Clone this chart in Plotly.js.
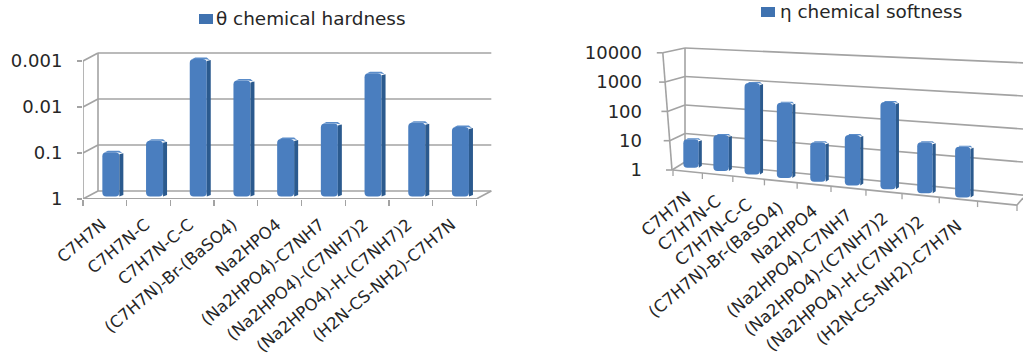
<!DOCTYPE html>
<html>
<head>
<meta charset="utf-8">
<script src="https://cdn.plot.ly/plotly-3.0.1.min.js"></script>
<style>html,body{margin:0;padding:0;background:#fff;overflow:hidden}</style>
</head>
<body>
<div id="chart" style="width:1023px;height:356px"></div>
<script>
// Compounds on the category axis of both panels
const categories = ['C7H7N','C7H7N-C','C7H7N-C-C','(C7H7N)-Br-(BaSO4)','Na2HPO4','(Na2HPO4)-C7NH7','(Na2HPO4)-(C7NH7)2','(Na2HPO4)-H-(C7NH7)2','(H2N-CS-NH2)-C7H7N'];
const hardness = [0.109,0.061,0.00102,0.003,0.056,0.026,0.0021,0.025,0.031];
const softness = [9.2,16,1000,270,18,38,480,35,32];
const hardnessTicks = [1,0.1,0.01,0.001];
const hardnessTickText = ['1','0.1','0.01','0.001'];
const softnessTicks = [1,10,100,1000,10000];
const softnessTickText = ['1','10','100','1000','10000'];
const hardnessTitle = 'θ chemical hardness';
const softnessTitle = 'η chemical softness';

const W = 1023, H = 356;
const FONT = 'DejaVu Sans, sans-serif';
const TEXT = '#262626';
const GRID = '#a3a3a3';
const FRONT = '#4a7ebf', SIDE = '#2b5a8e', TOP = '#5a8cc9';
const xDom = (a,b) => [a/W, b/W];
const yDom = (top,bottom) => [1-bottom/H, 1-top/H];

const traces = [], shapes = [], annotations = [];
const seg = (xref,yref,x0,y0,x1,y1,width) => shapes.push({type:'line',layer:'below',xref,yref,x0,y0,x1,y1,line:{color:GRID,width:width||1.6}});

// Key for a panel: a small swatch followed by the series name
function addKey(label, swatchX, textX, midY) {
  shapes.push({type:'rect',layer:'above',xref:'paper',yref:'paper',x0:swatchX/W,x1:(swatchX+14)/W,y0:1-(midY+5)/H,y1:1-(midY-5)/H,
    fillcolor:'#3f72b0',line:{width:0}});
  annotations.push({xref:'paper',yref:'paper',x:textX/W,y:1-midY/H,text:label,showarrow:false,xanchor:'left',yanchor:'middle',xshift:-2,
    font:{family:FONT,size:18.4,color:TEXT}});
}
addKey(hardnessTitle,199,216,19);
addKey(softnessTitle,761,780,12);

/* ---------- left panel: oblique box, reversed log scale ---------- */
const L = {left:83, slot:43.7, base:199, dec:46, depthX:15, depthY:8};
const lDomX = [L.left,493], lDomY = [50,L.base];
const lu = px => px/L.slot;          // pixels to category units
const lv = px => px/L.dec;           // pixels to decades
const hY = d => Math.pow(10,-d);     // decades above the floor to a value
const N = categories.length;

const backX = lu(L.depthX), backD = lv(L.depthY);
hardnessTicks.forEach(t => {
  const d = -Math.log10(t);
  seg('x','y',0,hY(d),backX,hY(d+backD));
  seg('x','y',backX,hY(d+backD),N+backX,hY(d+backD));
});
seg('x','y',0,hY(0),N,hY(0),2);
seg('x','y',N,hY(0),N+backX,hY(backD));
seg('x','y',0,hY(0),0,hY(3),1.6);
seg('x','y',backX,hY(backD),backX,hY(3+backD),1.6);

const lCenter = categories.map((_,i) => i+0.5+lu(6));
const lLift = lv(2.5);
const lBase = categories.map(() => hY(lLift));
traces.push({type:'bar',x:lCenter,y:hardness.map((v,i)=>v*hY(lLift)-lBase[i]),base:lBase,width:lu(17),
  name:hardnessTitle,showlegend:false,
  marker:{color:FRONT,cornerradius:4,line:{width:0}},xaxis:'x',yaxis:'y',hoverinfo:'skip'});

// side and top faces of the left bars
const lSide = {x:[],y:[]}, lTop = {x:[],y:[]};
hardness.forEach((v,i) => {
  const x1 = lCenter[i]+lu(8.5), x2 = x1+lu(4), dTop = -Math.log10(v)+lLift, s = lv(1.5);
  lSide.x.push(x1,x2,x2,x1,null);
  lSide.y.push(hY(dTop-lv(2)),hY(dTop-lv(1)),hY(lLift+s),hY(lLift),null);
  const x0 = lCenter[i]-lu(6);
  lTop.x.push(x0,x1-lu(2),x2-lu(1),x1,x0+lu(3),null);
  lTop.y.push(hY(dTop),hY(dTop),hY(dTop-lv(1)),hY(dTop+s),hY(dTop+s),null);
});
[[lSide,SIDE],[lTop,TOP]].forEach(([p,c]) => traces.push({type:'scatter',mode:'lines',x:p.x,y:p.y,fill:'toself',fillcolor:c,
  line:{width:0,color:c},showlegend:false,hoverinfo:'skip',xaxis:'x',yaxis:'y'}));

/* ---------- right panel: perspective box, log scale ---------- */
const R = {left:645, right:1023, base:170, dec:29.3};
const slotX = s => 673 + 28.8*s + 0.56*s*s;                // category slot to plane x
const floorY = x => R.base + (x-673)*0.102;                // front floor edge
const decade = x => 29.3 + (x-673)*0.015;                  // decade height grows towards the viewer
const rY = py => Math.pow(10,(R.base-py)/R.dec);           // plane y to a value on the axis
const backY = (n,x) => 162 - 28.5*n + (x-685)*(0.098-0.0135*n);

softnessTicks.forEach((t,n) => {
  const fx = 672 - 2.3*n, fy = R.base - R.dec*n;
  seg('x2','y2',fx-6,rY(fy),fx,rY(fy));
  seg('x2','y2',fx,rY(fy),685,rY(backY(n,685)));
  seg('x2','y2',685,rY(backY(n,685)),R.right,rY(backY(n,R.right)));
});
const topN = softnessTicks.length-1;
seg('x2','y2',672,rY(R.base),672-2.3*topN,rY(R.base-R.dec*topN));
seg('x2','y2',685,rY(backY(0,685)),685,rY(backY(topN,685)));
seg('x2','y2',673,rY(floorY(673)),slotX(10),rY(floorY(slotX(10))));
seg('x2','y2',slotX(10),rY(floorY(slotX(10))),R.right,rY(198));
for (let s=0; s<=10; s++) {
  const x = slotX(s), y = floorY(x);
  seg('x2','y2',x,rY(y),x,rY(y+6),1.3);
}

const rCenter = categories.map((_,i) => slotX(i+0.62));
const rBottom = rCenter.map(x => floorY(x)-4+(x-692)*0.007);
const rTopPx = softness.map((v,i) => rBottom[i]-Math.log10(v)*decade(rCenter[i]));
const rBase = rBottom.map(rY);
const BW = 15.5, SW = 3;
traces.push({type:'bar',x:rCenter,y:rTopPx.map((p,i)=>rY(p)-rBase[i]),base:rBase,width:BW,
  name:softnessTitle,showlegend:false,
  marker:{color:FRONT,cornerradius:4,line:{width:0}},xaxis:'x2',yaxis:'y2',hoverinfo:'skip'});

const rSide = {x:[],y:[]}, rCap = {x:[],y:[]};
rCenter.forEach((c,i) => {
  const x1 = c+BW/2, x2 = x1+SW, x0 = c-BW/2;
  rSide.x.push(x1,x2,x2,x1,null);
  rSide.y.push(rY(rTopPx[i]+2),rY(rTopPx[i]+1),rY(rBottom[i]-2),rY(rBottom[i]),null);
  rCap.x.push(x0+4,x1-2,x2-1,x1,x0+4,null);
  rCap.y.push(rY(rTopPx[i]),rY(rTopPx[i]),rY(rTopPx[i]+1),rY(rTopPx[i]-1),rY(rTopPx[i]-1),null);
  annotations.push({xref:'x2',yref:'y2',x:c+6,y:Math.log10(rY(floorY(c)+13)),text:categories[i],showarrow:false,
    xanchor:'right',yanchor:'top',textangle:-40,font:{family:FONT,size:16.8,color:TEXT}});
});
[[rSide,SIDE],[rCap,TOP]].forEach(([p,c]) => traces.push({type:'scatter',mode:'lines',x:p.x,y:p.y,fill:'toself',fillcolor:c,
  line:{width:0,color:c},showlegend:false,hoverinfo:'skip',xaxis:'x2',yaxis:'y2'}));

const layout = {
  width:W,height:H,margin:{l:0,r:0,t:0,b:0},paper_bgcolor:'#fff',plot_bgcolor:'rgba(0,0,0,0)',
  barmode:'overlay',showlegend:false,font:{family:FONT,color:TEXT},
  annotations,shapes,
  xaxis:{domain:xDom(...lDomX),range:[0,(lDomX[1]-L.left)/L.slot],anchor:'y',automargin:false,zeroline:false,showgrid:false,showline:false,
    tickmode:'array',tickvals:categories.map((_,i)=>i+0.5-lu(3)),ticktext:categories,tickangle:-40,ticks:'',ticklabelstandoff:12,
    tickfont:{family:FONT,size:16.5,color:TEXT},
    minor:{tickmode:'array',tickvals:categories.map((_,i)=>i).concat([N]),ticks:'outside',ticklen:6,tickwidth:1.3,tickcolor:GRID,showgrid:false}},
  yaxis:{type:'log',domain:yDom(...lDomY),range:[0,-(L.base-lDomY[0])/L.dec],anchor:'x',automargin:false,zeroline:false,showgrid:false,showline:false,
    tickmode:'array',tickvals:hardnessTicks,ticktext:hardnessTickText,ticks:'outside',ticklen:5,tickwidth:1.4,tickcolor:GRID,ticklabelstandoff:11,
    tickfont:{family:FONT,size:18,color:TEXT}},
  xaxis2:{domain:xDom(R.left,R.right),range:[R.left,R.right],anchor:'y2',automargin:false,zeroline:false,showgrid:false,showline:false,showticklabels:false,ticks:''},
  yaxis2:{type:'log',domain:yDom(40,232),range:[(R.base-232)/R.dec,(R.base-40)/R.dec],anchor:'x2',automargin:false,zeroline:false,showgrid:false,showline:false,
    tickmode:'array',tickvals:softnessTicks,ticktext:softnessTickText,ticks:'',ticklabelstandoff:2,
    tickfont:{family:FONT,size:18,color:TEXT}}
};
Plotly.newPlot('chart',traces,layout,{displayModeBar:false,staticPlot:true});
</script>
</body>
</html>
